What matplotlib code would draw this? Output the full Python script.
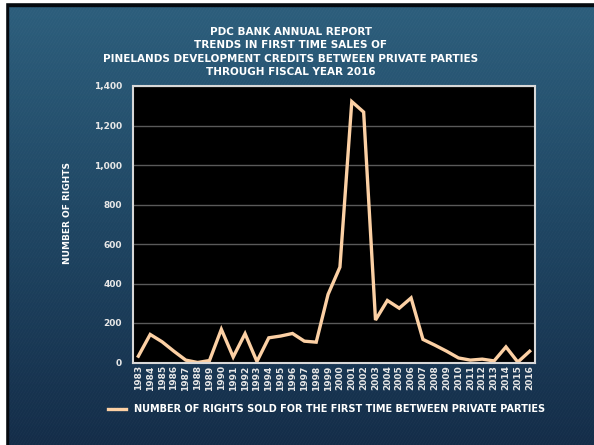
import matplotlib

matplotlib.use("Agg")
import matplotlib.pyplot as plt
import numpy as np
from matplotlib.colors import LinearSegmentedColormap
from matplotlib.patches import Rectangle
from matplotlib.ticker import FuncFormatter

years = [str(y) for y in range(1983, 2017)]
rights_sold = [
    32, 142, 105, 57, 12, 0, 10, 168, 28, 146, 5, 125, 134, 147, 108, 103,
    345, 483, 1321, 1268, 215, 314, 275, 327, 117, 88, 57, 23, 12, 17, 8, 79,
    2, 57,
]

title_lines = [
    "PDC BANK ANNUAL REPORT",
    "TRENDS IN FIRST TIME SALES OF",
    "PINELANDS DEVELOPMENT CREDITS BETWEEN PRIVATE PARTIES",
    "THROUGH FISCAL YEAR 2016",
]
series_label = "NUMBER OF RIGHTS SOLD FOR THE FIRST TIME BETWEEN PRIVATE PARTIES"
y_label = "NUMBER OF RIGHTS"

W, H = 594, 445
fig = plt.figure(figsize=(W / 100, H / 100), dpi=100, facecolor="#1f4663")

# background: blue gradient like the slide
bg = fig.add_axes([0, 0, 1, 1], zorder=-10)
bg_cmap = LinearSegmentedColormap.from_list("bg", ["#2d5f7d", "#1f4663", "#142d49"])
grad = np.linspace(0, 1, 256).reshape(-1, 1)
bg.imshow(grad, cmap=bg_cmap, aspect="auto", extent=[0, W, 0, H], origin="upper")
# faint diagonal weave, a hint of the denim texture
for k in np.arange(-H, W, 3):
    bg.plot([k, k + H * 0.6], [0, H], color="white", lw=0.4, alpha=0.035)
bg.set_xlim(0, W)
bg.set_ylim(0, H)
bg.axis("off")
# slide frame: white strip + black edge at top and left
bg.add_patch(Rectangle((0, 0), 5, H, color="white", zorder=3))
bg.add_patch(Rectangle((0, H - 2), W, 2, color="white", zorder=3))
bg.add_patch(Rectangle((5, 0), 3, H - 2, color="#050a10", zorder=2))
bg.add_patch(Rectangle((5, H - 6), W - 5, 4, color="#050a10", zorder=2))

# plot area in pixel coordinates
left, right, top, bottom = 133, 535, 86, 362.5
ax = fig.add_axes([left / W, (H - bottom) / H, (right - left) / W, (bottom - top) / H])
ax.set_facecolor("black")

x = np.arange(len(years))
line_color = "#fcd0a4"
ax.plot(x, rights_sold, color=line_color, lw=2.4, solid_joinstyle="miter", label=series_label)

ax.set_xlim(-0.45, len(years) - 0.55)
ax.set_ylim(0, 1400)
ax.set_yticks(np.arange(0, 1401, 200))
ax.yaxis.set_major_formatter(FuncFormatter(lambda v, p: f"{int(v):,}"))
ax.set_xticks(x)
ax.set_xticklabels(years, rotation=90)
ax.grid(axis="y", color="#5a5a5a", lw=1)
ax.set_axisbelow(True)
ax.tick_params(length=0, colors="#e8e8e8", labelsize=6.5)
ax.tick_params(axis="y", pad=8)
ax.tick_params(axis="x", pad=2)
for lab in ax.get_xticklabels() + ax.get_yticklabels():
    lab.set_fontweight("bold")
for sp in ax.spines.values():
    sp.set_color("#d8d8d8")
    sp.set_linewidth(1.5)

fig.text(67 / W, 1 - 213 / H, y_label, rotation=90, ha="center", va="center",
         color="white", fontsize=6.5, fontweight="bold")

for i, t in enumerate(title_lines):
    fig.text(291 / W, 1 - (32 + 13.4 * i) / H, t, ha="center", va="center",
             color="white", fontsize=7.5, fontweight="bold")

# legend
lx0, lx1, ly = 108, 126, 409
fig.add_artist(plt.Line2D([lx0 / W, lx1 / W], [1 - ly / H, 1 - ly / H], color=line_color, lw=2.4))
fig.text(134 / W, 1 - ly / H, series_label, ha="left", va="center", color="white",
         fontsize=7.0, fontweight="bold")

fig.savefig("out.png", dpi=100, facecolor=fig.get_facecolor())
